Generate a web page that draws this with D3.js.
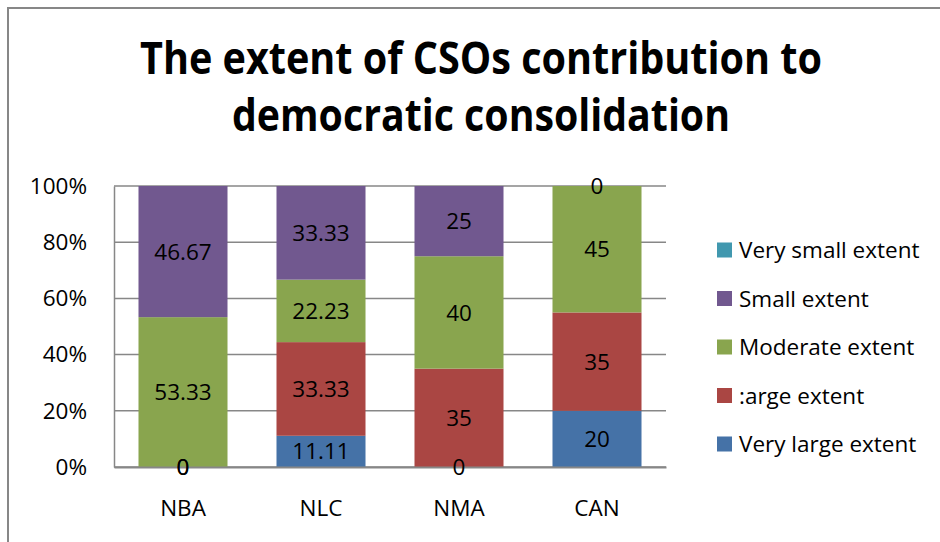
<!DOCTYPE html>
<html>
<head>
<meta charset="utf-8">
<script src="https://cdn.jsdelivr.net/npm/d3@7/dist/d3.min.js"></script>
<style>
  html, body { margin: 0; padding: 0; background: #fff; }
  svg { display: block; font-family: "Open Sans", "Noto Sans", sans-serif; }
</style>
</head>
<body>
<div id="chart"></div>
<script>
/* 100% stacked columns - CSOs contribution */

const categories = ['NBA', 'NLC', 'NMA', 'CAN'];

// series in stacking order (bottom -> top)
const seriesNames = ['Very large extent', ':arge extent', 'Moderate extent', 'Small extent', 'Very small extent'];
const veryLarge = [0, 11.11, 0, 20];
const large = [0, 33.33, 35, 35];
const moderate = [53.33, 22.23, 40, 45];
const small = [46.67, 33.33, 25, 0];
const verySmall = [null, null, null, null];

const seriesValues = [veryLarge, large, moderate, small, verySmall];
const seriesColors = ['#4572A7', '#AA4643', '#89A54E', '#71588F', '#4198AF'];

const yTicks = [0, 0.2, 0.4, 0.6, 0.8, 1];
const titleLines = ['The extent of CSOs contribution to', 'democratic consolidation'];

function drawChart() {
  const width = 940;
  const height = 542;
  const margin = { top: 186, right: 274, bottom: 75, left: 114 };
  const innerWidth = width - margin.left - margin.right;
  const innerHeight = height - margin.top - margin.bottom;
  const gridColor = '#878787';
  const labelSize = '22.5px';

  const svg = d3.select('#chart')
    .append('svg')
    .attr('width', width)
    .attr('height', height);

  // outer chart frame (runs off the picture on right / bottom)
  svg.append('rect')
    .attr('x', 8)
    .attr('y', 8)
    .attr('width', width + 20)
    .attr('height', height + 20)
    .attr('fill', '#fff')
    .attr('stroke', gridColor)
    .attr('stroke-width', 2);

  // Title
  const titleSizes = [682, 498];
  titleLines.forEach((line, i) => {
    svg.append('text')
      .attr('x', 481)
      .attr('y', 74 + i * 57)
      .attr('text-anchor', 'middle')
      .attr('font-size', '44px')
      .attr('font-weight', 'bold')
      .attr('fill', '#000')
      .attr('textLength', titleSizes[i])
      .attr('lengthAdjust', 'spacingAndGlyphs')
      .text(line);
  });

  const g = svg.append('g')
    .attr('transform', `translate(${margin.left},${margin.top})`);

  // table for stacking
  const rows = categories.map((c, i) => {
    const row = { cat: c };
    seriesNames.forEach((s, j) => { row[s] = seriesValues[j][i] || 0; });
    return row;
  });

  const stacked = d3.stack()
    .keys(seriesNames)
    .offset(d3.stackOffsetExpand)(rows);

  const x = d3.scaleBand()
    .domain(categories)
    .range([0, innerWidth])
    .paddingInner(0.355)
    .paddingOuter(0.1775);

  const y = d3.scaleLinear()
    .domain([0, 1])
    .range([innerHeight, 0]);

  const color = d3.scaleOrdinal()
    .domain(seriesNames)
    .range(seriesColors);

  // Grid lines
  g.selectAll('.grid-line')
    .data(yTicks)
    .enter()
    .append('line')
    .attr('class', 'grid-line')
    .attr('x1', 0)
    .attr('x2', innerWidth)
    .attr('y1', d => y(d))
    .attr('y2', d => y(d))
    .attr('stroke', gridColor)
    .attr('stroke-width', 1.5);

  // Bars
  stacked.forEach(layer => {
    g.selectAll(null)
      .data(layer)
      .enter()
      .append('rect')
      .attr('x', d => x(d.data.cat))
      .attr('y', d => y(d[1]))
      .attr('width', x.bandwidth())
      .attr('height', d => y(d[0]) - y(d[1]))
      .attr('fill', color(layer.key));
  });

  // Y Axis
  const yAxis = g.append('g')
    .call(d3.axisLeft(y).tickValues(yTicks).tickFormat(d3.format('.0%')).tickSize(0).tickPadding(27));
  yAxis.select('.domain').attr('stroke', gridColor).attr('stroke-width', 1.5);
  yAxis.selectAll('text')
    .attr('fill', '#000')
    .attr('font-size', labelSize)
    .attr('font-family', '"Open Sans", sans-serif');

  // X Axis
  const xAxis = g.append('g')
    .attr('transform', `translate(0,${innerHeight})`)
    .call(d3.axisBottom(x).tickSize(0).tickPadding(33));
  xAxis.select('.domain').attr('stroke', gridColor).attr('stroke-width', 2);
  xAxis.selectAll('text')
    .attr('fill', '#000')
    .attr('font-size', labelSize)
    .attr('font-family', '"Open Sans", sans-serif');

  // Data labels
  stacked.forEach((layer, j) => {
    g.selectAll(null)
      .data(layer.filter((d, i) => seriesValues[j][i] !== null))
      .enter()
      .append('text')
      .attr('x', d => x(d.data.cat) + x.bandwidth() / 2)
      .attr('y', d => (y(d[0]) + y(d[1])) / 2)
      .attr('dy', '0.36em')
      .attr('text-anchor', 'middle')
      .attr('font-size', labelSize)
      .attr('fill', '#000')
      .text(d => seriesValues[j][categories.indexOf(d.data.cat)]);
  });

  // Legend (reverse order, top = last series)
  const legend = svg.append('g')
    .attr('transform', `translate(717, 250)`);

  seriesNames.slice().reverse().forEach((name, i) => {
    const item = legend.append('g')
      .attr('transform', `translate(0, ${i * 48.5})`);

    item.append('rect')
      .attr('x', 0)
      .attr('y', -7.5)
      .attr('width', 15)
      .attr('height', 15)
      .attr('fill', color(name));

    item.append('text')
      .attr('x', 22)
      .attr('y', 0)
      .attr('dy', '0.36em')
      .attr('font-size', labelSize)
      .attr('fill', '#000')
      .text(name);
  });
}

drawChart();
</script>
</body>
</html>
